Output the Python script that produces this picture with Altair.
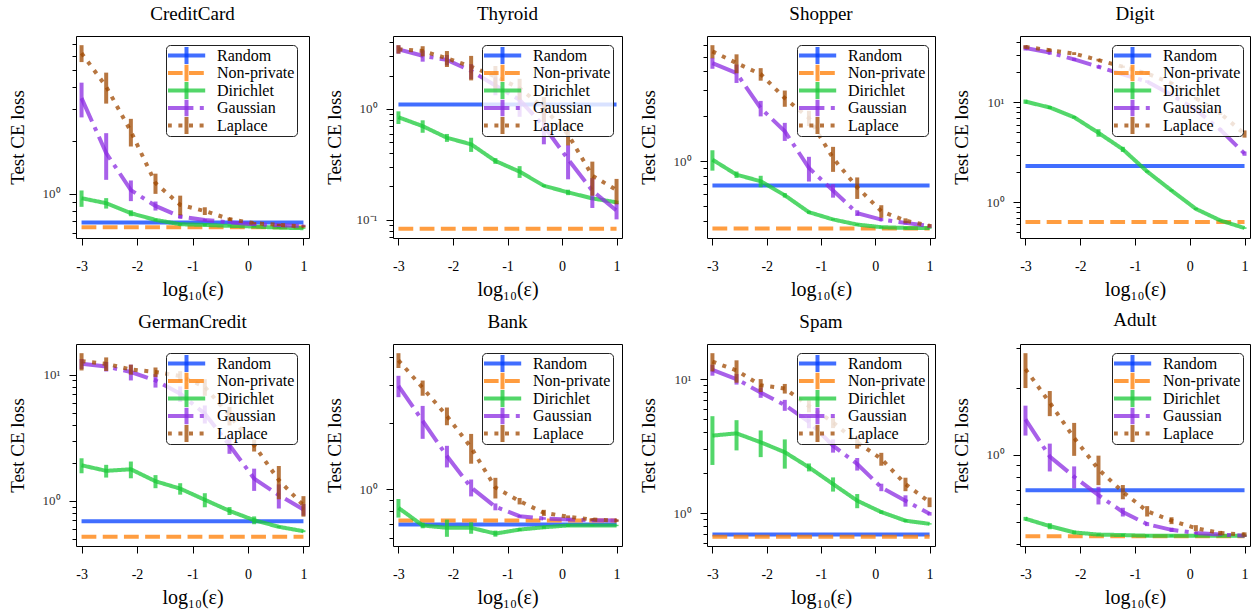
import math
import altair as alt
import pandas as pd

# ---------------- data ----------------
EPS = [-3.0, -2.556, -2.111, -1.667, -1.222, -0.778, -0.333, 0.111, 0.556, 1.0]
ROWS = [["CreditCard", "Thyroid", "Shopper", "Digit"],
        ["GermanCredit", "Bank", "Spam", "Adult"]]
METHODS = ["Random", "Non-private", "Dirichlet", "Gaussian", "Laplace"]
COLORS = ["#023eff", "#ff7c00", "#1ac938", "#8b2be2", "#9f4800"]
DASHES = [[1, 0], [14.8, 6.4], [1, 0], [25.6, 6.4, 4, 6.4], [4, 6.6]]

RANDOM = {"CreditCard": 0.69, "Thyroid": 1.0986, "Shopper": 0.69, "Digit": 2.30,
          "GermanCredit": 0.69, "Bank": 0.692, "Spam": 0.694, "Adult": 0.695}
NONPRIVATE = {"CreditCard": 0.648, "Thyroid": 0.083, "Shopper": 0.355, "Digit": 0.633,
              "GermanCredit": 0.519, "Bank": 0.722, "Spam": 0.667, "Adult": 0.432}

DIRICHLET = {
    "CreditCard": [0.945, 0.886, 0.778, 0.713, 0.674, 0.668, 0.660, 0.654, 0.645, 0.640],
    "Thyroid": [0.842, 0.70, 0.55, 0.48, 0.34, 0.272, 0.203, 0.177, 0.156, 0.144],
    "Shopper": [1.026, 0.814, 0.735, 0.592, 0.456, 0.408, 0.377, 0.362, 0.358, 0.358],
    "Digit": [10.2, 8.9, 7.1, 4.96, 3.39, 2.03, 1.31, 0.858, 0.657, 0.551],
    "GermanCredit": [1.915, 1.73, 1.78, 1.43, 1.25, 1.02, 0.833, 0.703, 0.623, 0.575],
    "Bank": [0.825, 0.686, 0.669, 0.669, 0.63, 0.657, 0.673, 0.686, 0.686, 0.686],
    "Spam": [3.79, 3.94, 3.38, 2.85, 2.2, 1.65, 1.24, 1.02, 0.88, 0.833],
    "Adult": [0.518, 0.48, 0.45, 0.44, 0.438, 0.435, 0.435, 0.435, 0.435, 0.435],
}
DIRICHLET_ERR = {
    "CreditCard": [0.10, 0.06, 0.03, 0.01, 0.01, 0.01, 0.005, 0.005, 0.005, 0.005],
    "Thyroid": [0.11, 0.09, 0.045, 0.07, 0.02, 0.033, 0.005, 0.01, 0.005, 0.005],
    "Shopper": [0.16, 0.04, 0.065, 0.02, 0.01, 0.005, 0.005, 0.005, 0.005, 0.005],
    "Digit": [0.5, 0.3, 0.2, 0.43, 0.2, 0.05, 0.03, 0.02, 0.01, 0.01],
    "GermanCredit": [0.26, 0.2, 0.27, 0.17, 0.13, 0.13, 0.06, 0.05, 0.01, 0.01],
    "Bank": [0.08, 0.02, 0.06, 0.04, 0.02, 0.01, 0.01, 0.01, 0.005, 0.005],
    "Spam": [1.5, 1.0, 0.76, 0.7, 0.15, 0.2, 0.15, 0.03, 0.02, 0.01],
    "Adult": [0.01, 0.015, 0.008, 0.005, 0.005, 0.005, 0.005, 0.005, 0.005, 0.005],
}
GAUSSIAN = {
    "CreditCard": [3.47, 1.70, 1.05, 0.855, 0.745, 0.713, 0.69, 0.674, 0.666, 0.66],
    "Thyroid": [3.45, 3.02, 2.77, 2.2, 1.63, 1.21, 0.70, 0.352, 0.183, 0.121],
    "Shopper": [4.55, 3.9, 2.27, 1.59, 0.902, 0.637, 0.45, 0.407, 0.387, 0.368],
    "Digit": [35.2, 31.6, 27.0, 22.8, 19.1, 16.2, 11.9, 8.45, 5.35, 3.07],
    "GermanCredit": [12.2, 11.6, 10.5, 9.0, 7.07, 4.9, 2.76, 1.5, 1.11, 0.854],
    "Bank": [2.96, 2.05, 1.42, 1.02, 0.834, 0.756, 0.738, 0.73, 0.725, 0.722],
    "Spam": [11.7, 10.0, 7.95, 6.4, 4.8, 3.19, 2.33, 1.56, 1.24, 0.99],
    "Adult": [1.44, 0.983, 0.798, 0.66, 0.555, 0.49, 0.462, 0.447, 0.44, 0.435],
}
GAUSSIAN_ERR = {
    "CreditCard": [0.77, 0.5, 0.14, 0.05, 0.02, 0.01, 0.01, 0.01, 0.01, 0.01],
    "Thyroid": [0.3, 0.35, 0.3, 0.34, 0.3, 0.36, 0.22, 0.12, 0.055, 0.02],
    "Shopper": [0.38, 0.55, 0.27, 0.22, 0.17, 0.066, 0.02, 0.01, 0.01, 0.01],
    "Digit": [2.0, 1.5, 1.0, 0.8, 0.6, 0.5, 0.4, 0.3, 0.2, 0.15],
    "GermanCredit": [1.1, 1.0, 1.5, 1.1, 1.0, 0.8, 0.4, 0.3, 0.24, 0.09],
    "Bank": [0.33, 0.35, 0.16, 0.09, 0.03, 0.01, 0.01, 0.01, 0.01, 0.005],
    "Spam": [1.1, 0.9, 0.7, 0.6, 0.5, 0.36, 0.25, 0.1, 0.12, 0.03],
    "Adult": [0.22, 0.14, 0.09, 0.06, 0.025, 0.01, 0.01, 0.005, 0.005, 0.005],
}
LAPLACE = {
    "CreditCard": [6.22, 4.03, 2.25, 1.15, 0.867, 0.80, 0.72, 0.683, 0.668, 0.654],
    "Thyroid": [3.46, 3.33, 2.86, 2.41, 1.96, 1.54, 1.02, 0.589, 0.25, 0.186],
    "Shopper": [5.45, 4.55, 3.84, 2.65, 1.95, 1.05, 0.67, 0.463, 0.40, 0.37],
    "Digit": [36.0, 33.4, 30.9, 26.6, 22.8, 19.5, 15.6, 11.0, 7.8, 4.84],
    "GermanCredit": [12.8, 12.2, 11.0, 10.5, 9.76, 8.0, 4.76, 2.76, 1.46, 0.92],
    "Bank": [3.87, 2.9, 2.16, 1.55, 1.02, 0.885, 0.783, 0.752, 0.73, 0.722],
    "Spam": [13.5, 11.6, 9.0, 8.5, 6.3, 4.76, 3.38, 2.54, 1.65, 1.21],
    "Adult": [2.42, 1.71, 1.19, 0.862, 0.683, 0.56, 0.508, 0.47, 0.447, 0.44],
}
LAPLACE_ERR = {
    "CreditCard": [0.68, 0.8, 0.4, 0.15, 0.11, 0.04, 0.015, 0.01, 0.01, 0.01],
    "Thyroid": [0.3, 0.35, 0.47, 0.6, 0.48, 0.33, 0.26, 0.12, 0.085, 0.048],
    "Shopper": [0.55, 0.66, 0.37, 0.33, 0.23, 0.2, 0.11, 0.045, 0.015, 0.01],
    "Digit": [1.5, 1.2, 1.0, 0.8, 0.6, 0.5, 0.4, 0.3, 0.3, 0.4],
    "GermanCredit": [2.0, 1.5, 1.0, 0.9, 0.9, 1.2, 0.8, 0.3, 0.43, 0.17],
    "Bank": [0.3, 0.23, 0.2, 0.24, 0.11, 0.03, 0.025, 0.01, 0.01, 0.01],
    "Spam": [2.1, 2.2, 1.0, 0.7, 0.65, 0.45, 0.35, 0.28, 0.19, 0.1],
    "Adult": [0.43, 0.22, 0.2, 0.13, 0.05, 0.03, 0.018, 0.015, 0.01, 0.01],
}
X_TICKS = [-3, -2, -1, 0, 1]

# ---------------- styling ----------------
FONT = "Liberation Serif"
WIDTHS = [233, 229, 228, 230]
LEG_XS = [90, 89, 90, 92]
H = 202
XDOM = [-3.1, 1.1]
LEG_Y = 9
EXTRA = "_"

MAJOR = "abs(log(datum.value)/LN10 - round(log(datum.value)/LN10)) < 0.001"
YLABEL = (f"({MAJOR}) ? (datum.value > 5 ? '10\u00b9' : "
          f"(datum.value > 0.5 ? '10\u2070' : '10\u207b\u00b9')) : ''")


def panel(name, w, legx):
    rows, bars = [], []
    for i, x in enumerate(EPS):
        rows.append(dict(method="Random", x=x, y=RANDOM[name]))
        rows.append(dict(method="Non-private", x=x, y=NONPRIVATE[name]))
        for m, means, errs in (("Dirichlet", DIRICHLET, DIRICHLET_ERR),
                               ("Gaussian", GAUSSIAN, GAUSSIAN_ERR),
                               ("Laplace", LAPLACE, LAPLACE_ERR)):
            v, e = means[name][i], errs[name][i]
            rows.append(dict(method=m, x=x, y=v))
            bars.append(dict(method=m, x=x, lo=v - e, hi=v + e))
    df = pd.DataFrame(rows)
    db = pd.DataFrame(bars)
    lo = min(df["y"].min(), db["lo"].min())
    hi = max(df["y"].max(), db["hi"].max())
    a, b = math.log10(lo), math.log10(hi)
    pad = 0.05 * (b - a)
    ydom = [10 ** (a - pad), 10 ** (b + pad)]
    ticks = [m * 10.0 ** e for e in (-2, -1, 0, 1) for m in range(1, 10)]
    ticks = [t for t in ticks if ydom[0] <= t <= ydom[1]]

    xs = alt.Scale(domain=XDOM, nice=False, zero=False)
    ys = alt.Scale(type="log", domain=ydom, nice=False)
    xaxis = alt.Axis(values=X_TICKS,
                     labelExpr="datum.value < 0 ? '-' + abs(datum.value) : '' + datum.value",
                     tickSize=7, tickColor="black", labelFont=FONT, labelFontSize=14,
                     labelColor="black", labelPadding=14, labelFlush=False, grid=False,
                     domain=False, title="log\u2081\u2080(\u03b5)", titleFont=FONT,
                     titleFontSize=20, titleFontWeight="normal", titleColor="black",
                     titlePadding=6)
    yaxis = alt.Axis(values=ticks, labelExpr=YLABEL,
                     tickSize={"condition": {"test": MAJOR, "value": 7}, "value": 4},
                     tickColor="black", labelFont=FONT, labelFontSize=13,
                     labelColor="#333", labelPadding=9, labelOverlap=False,
                     labelFlush=False, grid=False, domain=False,
                     minExtent=36, maxExtent=36,
                     title="Test CE loss", titleFont=FONT, titleFontSize=19,
                     titleFontWeight="normal", titleColor="black", titlePadding=13)

    common = dict(orient="none", legendX=legx, legendY=LEG_Y, title=None,
                  direction="vertical", symbolSize=289, symbolStrokeWidth=4,
                  symbolOpacity=0.75, labelFont=FONT, labelFontSize=16,
                  labelColor="black", padding=2, symbolOffset=8, labelOffset=20,
                  rowPadding=0.5, clipHeight=17)
    leg_line = alt.Legend(symbolType="M-2.2,0L2.2,0",
                          fillColor="rgba(255,255,255,0.8)", strokeColor="#222",
                          cornerRadius=4, **common)
    leg_bar = alt.Legend(symbolType="M0,-1L0,1", values=METHODS, labelOpacity=0,
                         **common)

    lines = alt.Chart(df).mark_line(strokeWidth=4, opacity=0.75, strokeCap="butt").encode(
        x=alt.X("x:Q", scale=xs, axis=xaxis),
        y=alt.Y("y:Q", scale=ys, axis=yaxis),
        stroke=alt.Stroke("method:N", scale=alt.Scale(domain=METHODS, range=COLORS),
                          legend=leg_line),
        strokeDash=alt.StrokeDash("method:N", scale=alt.Scale(domain=METHODS, range=DASHES),
                                  legend=leg_line),
    )
    errs = alt.Chart(db).mark_rule(strokeWidth=4, opacity=0.75).encode(
        x=alt.X("x:Q", scale=xs, axis=xaxis),
        y=alt.Y("lo:Q", scale=ys, axis=yaxis),
        y2="hi:Q",
        color=alt.Color("method:N",
                        scale=alt.Scale(domain=METHODS + [EXTRA], range=COLORS + ["#000000"]),
                        legend=leg_bar),
    )
    title = alt.TitleParams(name, font=FONT, fontSize=19, fontWeight="normal",
                            color="black", offset=12)
    return alt.layer(lines, errs).properties(width=w, height=H, title=title)


RES_S = dict(x="independent", y="independent", color="independent",
             stroke="independent", strokeDash="independent")
RES_L = dict(color="independent", stroke="independent", strokeDash="independent")

row_charts = []
for names in ROWS:
    row = alt.hconcat(*[panel(n, w, lx) for n, w, lx in zip(names, WIDTHS, LEG_XS)],
                      spacing=12).resolve_scale(**RES_S).resolve_legend(**RES_L)
    row_charts.append(row)

chart = alt.vconcat(*row_charts, spacing=10).resolve_scale(**RES_S).resolve_legend(
    **RES_L
).configure_view(stroke="black", strokeWidth=1).properties(
    padding={"left": 7, "top": 4, "right": 2, "bottom": 2})

chart.save("out.html", embed_options={"renderer": "svg", "actions": False})
